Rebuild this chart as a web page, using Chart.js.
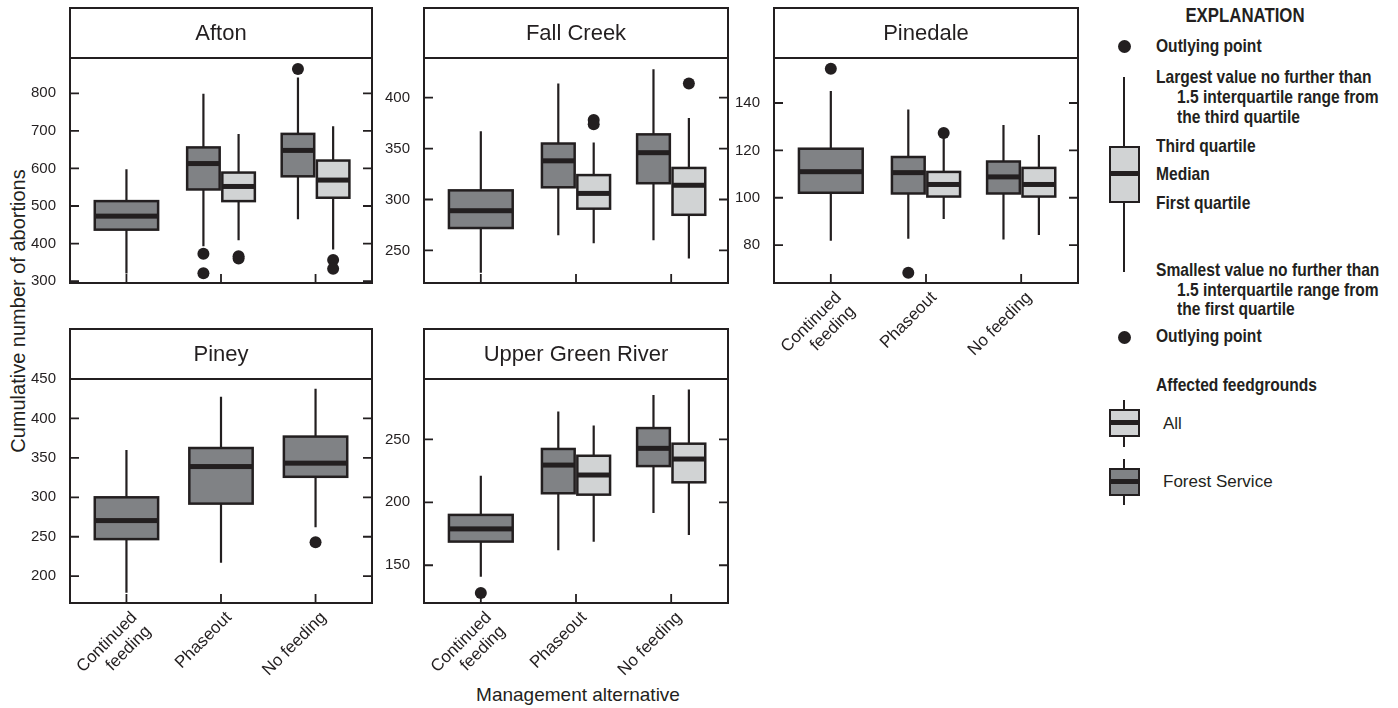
<!DOCTYPE html>
<html>
<head>
<meta charset="utf-8">
<script src="https://cdn.jsdelivr.net/npm/chart.js@4.4.1/dist/chart.umd.min.js"></script>
<style>
  body { margin: 0; background: #fff; }
  #page { position: relative; width: 1398px; height: 708px; overflow: hidden; color: #231f20;
          font-family: "Liberation Sans", Arial, sans-serif; }
  canvas { position: absolute; }
  .t { position: absolute; white-space: nowrap; line-height: 20px; }
  .b { font-weight: bold; font-size: 19px; transform: scaleX(0.82); transform-origin: 0 50%; }
  .r { font-size: 17px; }
  .ink { position: absolute; background: #231f20; }
  .box { position: absolute; box-sizing: border-box; border: 2px solid #231f20; }
  .dot { position: absolute; width: 13px; height: 13px; border-radius: 50%; background: #231f20; }
</style>
</head>
<body>
<div id="page">
  <div class="t" style="left:18px;top:311px;font-size:20px;transform:translate(-50%,-50%) rotate(-90deg);">Cumulative number of abortions</div>
  <div class="t" style="left:578px;top:685px;font-size:19px;transform:translateX(-50%);">Management alternative</div>

  <!-- explanation -->
  <div class="t" style="left:1145px;top:5px;width:200px;text-align:center;font-size:20px;font-weight:bold;transform:scaleX(0.84);">EXPLANATION</div>
  <div class="dot" style="left:1118px;top:40px;"></div>
  <div class="t b" style="left:1156px;top:36px;">Outlying point</div>
  <div class="ink" style="left:1123px;top:77px;width:2px;height:195px;"></div>
  <div class="box" style="left:1109px;top:146px;width:31px;height:57px;background:#d1d3d4;"></div>
  <div class="ink" style="left:1109px;top:171px;width:31px;height:5px;"></div>
  <div class="t b" style="left:1156px;top:67px;">Largest value no further than</div>
  <div class="t b" style="left:1177px;top:87px;">1.5 interquartile range from</div>
  <div class="t b" style="left:1177px;top:107px;">the third quartile</div>
  <div class="t b" style="left:1156px;top:136px;">Third quartile</div>
  <div class="t b" style="left:1156px;top:164px;">Median</div>
  <div class="t b" style="left:1156px;top:193px;">First quartile</div>
  <div class="t b" style="left:1156px;top:260px;">Smallest value no further than</div>
  <div class="t b" style="left:1177px;top:280px;">1.5 interquartile range from</div>
  <div class="t b" style="left:1177px;top:299px;">the first quartile</div>
  <div class="dot" style="left:1118px;top:331px;"></div>
  <div class="t b" style="left:1156px;top:326px;">Outlying point</div>
  <div class="t b" style="left:1156px;top:375px;">Affected feedgrounds</div>

  <div class="ink" style="left:1123px;top:400px;width:2px;height:47px;"></div>
  <div class="box" style="left:1109px;top:409px;width:31px;height:28px;background:#d1d3d4;"></div>
  <div class="ink" style="left:1109px;top:420px;width:31px;height:5px;"></div>
  <div class="t r" style="left:1163px;top:414px;">All</div>

  <div class="ink" style="left:1123px;top:459px;width:2px;height:46px;"></div>
  <div class="box" style="left:1109px;top:468px;width:31px;height:28px;background:#808285;"></div>
  <div class="ink" style="left:1109px;top:479px;width:31px;height:5px;"></div>
  <div class="t r" style="left:1163px;top:472px;">Forest Service</div>
</div>

<script>
const categories = [['Continued', 'feeding'], 'Phaseout', 'No feeding'];

// each box: [lower whisker, first quartile, median, third quartile, upper whisker]
const aftonForest = [[320, 437, 473, 513, 598], [393, 544, 613, 656, 799], [465, 579, 648, 692, 842]];
const aftonAll = [null, [409, 513, 552, 589, 692], [384, 522, 569, 621, 712]];
const aftonForestOut = [[], [373, 321], [865]];
const aftonAllOut = [[], [366, 360], [356, 333]];
const aftonTicks = [300, 400, 500, 600, 700, 800];
const aftonRange = [295, 894];

const fallForest = [[228, 272, 289, 309, 367], [265, 312, 338, 355, 414], [260, 316, 346, 364, 428]];
const fallAll = [null, [257, 291, 306, 324, 356], [242, 285, 314, 331, 380]];
const fallForestOut = [[], [], []];
const fallAllOut = [[], [378, 374], [414]];
const fallTicks = [250, 300, 350, 400];
const fallRange = [218, 439];

const pineForest = [[81.8, 102.1, 111, 120.7, 145.1], [82.7, 101.8, 110.6, 117.2, 137.3], [82.4, 101.8, 108.8, 115.3, 130.7]];
const pineAll = [null, [91, 100.5, 105.6, 110.9, 125.3], [84.3, 100.5, 105.6, 112.6, 126.5]];
const pineForestOut = [[154.5], [68.3], []];
const pineAllOut = [[], [127.3], []];
const pineTicks = [80, 100, 120, 140];
const pineRange = [64, 159];

const pineyForest = [[179, 247, 270.5, 300, 360], [217, 292, 339, 362.5, 427.5], [262, 326, 343.3, 377, 437.5]];
const pineyAll = [null, null, null];
const pineyForestOut = [[], [], [243]];
const pineyAllOut = [[], [], []];
const pineyTicks = [200, 250, 300, 350, 400, 450];
const pineyRange = [166, 450];

const ugrForest = [[140.8, 168.8, 178.9, 190, 221.2], [161.9, 207.2, 229.6, 242.4, 272.2], [191.6, 228.8, 242.9, 259, 285.2]];
const ugrAll = [null, [168.6, 206.1, 221.7, 237, 261.1], [174.1, 215.9, 234.4, 246.6, 289.6]];
const ugrForestOut = [[128], [], []];
const ugrAllOut = [[], [], []];
const ugrTicks = [150, 200, 250];
const ugrRange = [120, 298];

const INK = '#231f20';
const FOREST_FILL = '#808285';
const ALL_FILL = '#d1d3d4';
const HDR = 50, AXW = 60, TICK = 9;
const PAIR_SHIFT = 0.186;

// where a box sits: shifted left/right when both series have a box
function boxCenter(i, paired, side) {
  return i + 1 + (paired ? side * PAIR_SHIFT : 0);
}

const boxplotPlugin = {
  id: 'boxplot',
  beforeDatasetsDraw(chart, args, opts) {
    const { ctx, scales: { x, y } } = chart;
    const [forest, all] = opts.series;
    [[forest, -1, FOREST_FILL], [all, 1, ALL_FILL]].forEach(([data, side, fill]) => {
      data.forEach((d, i) => {
        if (!d) return;
        const paired = forest[i] && all[i];
        const cx = boxCenter(i, paired, side);
        const half = paired ? 0.172 : 0.335;
        const x0 = x.getPixelForValue(cx - half);
        const x1 = x.getPixelForValue(cx + half);
        const xm = x.getPixelForValue(cx);
        const [lo, q1, med, q3, hi] = d.map(v => y.getPixelForValue(v));
        ctx.save();
        ctx.strokeStyle = INK;
        ctx.lineWidth = 2.2;
        ctx.beginPath();
        ctx.moveTo(xm, hi); ctx.lineTo(xm, q3);
        ctx.moveTo(xm, q1); ctx.lineTo(xm, lo);
        ctx.stroke();
        ctx.fillStyle = fill;
        ctx.fillRect(x0, q3, x1 - x0, q1 - q3);
        ctx.lineWidth = 2.5;
        ctx.strokeRect(x0, q3, x1 - x0, q1 - q3);
        ctx.fillStyle = INK;
        ctx.fillRect(x0, med - 2.5, x1 - x0, 5);
        ctx.restore();
      });
    });
  }
};

const framePlugin = {
  id: 'frame',
  afterDraw(chart, args, opts) {
    const { ctx, chartArea: a, scales: { x, y } } = chart;
    ctx.save();
    ctx.strokeStyle = INK;
    ctx.lineWidth = 2;
    ctx.strokeRect(a.left, a.top, a.right - a.left, a.bottom - a.top);
    ctx.strokeRect(a.left, a.top - HDR, a.right - a.left, HDR);
    ctx.lineWidth = 1.8;
    ctx.beginPath();
    y.ticks.forEach(t => {
      const py = y.getPixelForValue(t.value);
      ctx.moveTo(a.left, py); ctx.lineTo(a.left + TICK, py);
      ctx.moveTo(a.right, py); ctx.lineTo(a.right - TICK, py);
    });
    x.ticks.forEach(t => {
      const px = x.getPixelForValue(t.value);
      ctx.moveTo(px, a.bottom); ctx.lineTo(px, a.bottom - TICK);
    });
    ctx.stroke();
    ctx.fillStyle = INK;
    ctx.font = '22px "Liberation Sans", Arial, sans-serif';
    ctx.textAlign = 'center';
    ctx.textBaseline = 'middle';
    ctx.fillText(opts.title, (a.left + a.right) / 2, a.top - HDR / 2 + 1);
    ctx.restore();
  }
};

function outlierPoints(outs, forest, all, side) {
  const pts = [];
  outs.forEach((vals, i) => {
    const paired = forest[i] && all[i];
    vals.forEach(v => pts.push({ x: boxCenter(i, paired, side), y: v }));
  });
  return pts;
}

function makePanel(p) {
  const plotW = p.right - p.left;
  const plotH = p.bottom - p.hdrTop - HDR;
  const below = p.labels ? 95 : 20;
  const canvas = document.createElement('canvas');
  canvas.width = plotW + AXW + 5;
  canvas.height = 3 + HDR + plotH + below;
  canvas.style.left = (p.left - AXW) + 'px';
  canvas.style.top = (p.hdrTop - 3) + 'px';
  document.getElementById('page').appendChild(canvas);

  new Chart(canvas.getContext('2d'), {
    type: 'scatter',
    data: {
      datasets: [
        { data: outlierPoints(p.forestOut, p.forest, p.all, -1) },
        { data: outlierPoints(p.allOut, p.forest, p.all, 1) }
      ]
    },
    options: {
      responsive: false,
      animation: false,
      events: [],
      layout: { padding: { top: 3 + HDR, right: 5, left: 0, bottom: 0 } },
      elements: { point: { radius: 6, backgroundColor: INK, borderWidth: 0 } },
      scales: {
        x: {
          type: 'linear',
          min: 0.403,
          max: 3.597,
          grid: { display: false },
          border: { display: false },
          afterBuildTicks: s => { s.ticks = categories.map((c, i) => ({ value: i + 1 })); },
          afterFit: s => { s.height = below; },
          ticks: {
            display: p.labels,
            autoSkip: false,
            maxRotation: 45,
            minRotation: 45,
            padding: -3,
            labelOffset: 8,
            color: INK,
            font: { family: '"Liberation Sans", Arial, sans-serif', size: 17, lineHeight: 1.15 },
            callback: v => categories[v - 1]
          }
        },
        y: {
          min: p.range[0],
          max: p.range[1],
          grid: { display: false },
          border: { display: false },
          afterBuildTicks: s => { s.ticks = p.ticks.map(v => ({ value: v })); },
          afterFit: s => { s.width = AXW; },
          ticks: {
            padding: 6,
            color: INK,
            font: { family: '"Liberation Sans", Arial, sans-serif', size: 15 }
          }
        }
      },
      plugins: {
        legend: { display: false },
        tooltip: { enabled: false },
        boxplot: { series: [p.forest, p.all] },
        frame: { title: p.title }
      }
    },
    plugins: [boxplotPlugin, framePlugin]
  });
}

makePanel({ title: 'Afton', left: 70, right: 373, hdrTop: 8, bottom: 283, labels: false,
  forest: aftonForest, all: aftonAll, forestOut: aftonForestOut, allOut: aftonAllOut, ticks: aftonTicks, range: aftonRange });
makePanel({ title: 'Fall Creek', left: 424, right: 729, hdrTop: 8, bottom: 283, labels: false,
  forest: fallForest, all: fallAll, forestOut: fallForestOut, allOut: fallAllOut, ticks: fallTicks, range: fallRange });
makePanel({ title: 'Pinedale', left: 774, right: 1079, hdrTop: 8, bottom: 283, labels: true,
  forest: pineForest, all: pineAll, forestOut: pineForestOut, allOut: pineAllOut, ticks: pineTicks, range: pineRange });
makePanel({ title: 'Piney', left: 70, right: 373, hdrTop: 329, bottom: 603, labels: true,
  forest: pineyForest, all: pineyAll, forestOut: pineyForestOut, allOut: pineyAllOut, ticks: pineyTicks, range: pineyRange });
makePanel({ title: 'Upper Green River', left: 424, right: 729, hdrTop: 329, bottom: 603, labels: true,
  forest: ugrForest, all: ugrAll, forestOut: ugrForestOut, allOut: ugrAllOut, ticks: ugrTicks, range: ugrRange });
</script>
</body>
</html>
